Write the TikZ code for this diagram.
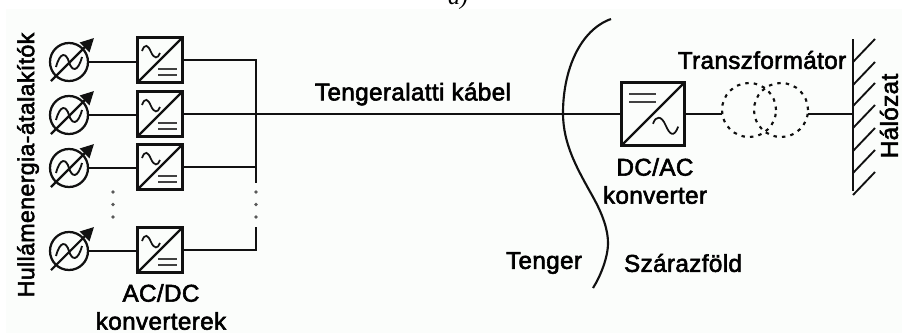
\documentclass[tikz,border=0pt]{standalone}
\usepackage{fontspec}
\setmainfont[FakeBold=2.4,LetterSpace=1.5]{Liberation Sans}
\newfontfamily\betuserif{Liberation Serif}
\usetikzlibrary{arrows.meta, shapes.geometric}
\definecolor{hatter}{HTML}{FBFDFB}
\definecolor{vonal}{HTML}{111111}

\begin{document}
\begin{tikzpicture}[
  x=0.75pt, y=-0.75pt,
  font=\fontsize{18.2}{21}\selectfont,
  forras/.style={draw=vonal, circle, line width=1.7pt, minimum size=28.5pt, inner sep=0pt},
  konverter/.style={draw=vonal, line width=1.8pt, minimum size=33.5pt, inner sep=0pt},
  nagykonverter/.style={konverter, minimum size=47pt},
  tekercs/.style={draw=vonal, circle, line width=1.6pt, minimum size=40.5pt, inner sep=0pt,
                  dash pattern=on 2.6pt off 3.8pt},
  vezetek/.style={draw=vonal, line width=1.6pt},
  forrasjel/.pic={
    \draw[vonal, line width=1.4pt] (-13,5) .. controls (-9,-10) and (-3,-10) .. (0,0)
      .. controls (3,10) and (9,10) .. (13,-5);
    \draw[vonal, line width=1.6pt, -{Triangle[length=10pt,width=10pt]}] (-18,19) -- (25,-24);
  },
  konverterjel/.pic={
    \draw[vonal, line width=1.7pt] (-22,22) -- (22,-22);
    \draw[vonal, line width=1.3pt] (-18,-9) .. controls (-15,-17) and (-12,-15) .. (-9,-8)
      .. controls (-6,-1) and (-2,-1) .. (0,-7);
    \draw[vonal!80, line width=1.5pt] (-2,8.5) -- (17,8.5) (-2,14.5) -- (17,14.5);
  },
  ponthalo/.pic={
    \fill[vonal!70] (0,0) circle (1.4pt) (0,12.5) circle (1.4pt) (0,25) circle (1.4pt);
  }
]
\useasboundingbox (0,0) rectangle (902,333);
\fill[hatter] (6,9) rectangle (902,333);

\node[font=\betuserif\itshape\fontsize{18}{18}\selectfont, anchor=base] (A) at (458,4) {a)};

\node[forras] (G1) at (69,62) {};
\node[forras] (G2) at (69,115) {};
\node[forras] (G3) at (69,168) {};
\node[forras] (G4) at (69,251) {};

\node[konverter] (C1) at (160,60) {};
\node[konverter] (C2) at (160,114) {};
\node[konverter] (C3) at (160,167) {};
\node[konverter] (C4) at (160,250) {};

\coordinate (S1) at (256,60);
\coordinate (S2) at (256,114);
\coordinate (S3) at (256,167);
\coordinate (S4) at (256,250);
\coordinate (SF) at (256,183);
\coordinate (SA) at (256,227);

\node[nagykonverter] (D) at (653,114) {};
\node[tekercs] (T1) at (749,110) {};
\node[tekercs] (T2) at (781,110) {};
\coordinate (TB) at (722,114);
\coordinate (TJ) at (808,114);
\coordinate (W1) at (853,39);
\coordinate (W2) at (853,191);
\coordinate (WK) at (853,114);

\draw[vezetek] (G1) -- (G1 -| C1.west);
\draw[vezetek] (G2) -- (G2 -| C2.west);
\draw[vezetek] (G3) -- (G3 -| C3.west);
\draw[vezetek] (G4) -- (G4 -| C4.west);
\draw[vezetek] (C1) -- (S1) -- (SF);
\draw[vezetek] (C2) -- (S2);
\draw[vezetek] (C3) -- (S3);
\draw[vezetek] (C4) -- (S4) -- (SA);
\draw[vezetek] (S2) -- (D);
\draw[vezetek] (D) -- (TB);
\draw[vezetek] (TJ) -- (WK);

\pic at (G1) {forrasjel};
\pic at (G2) {forrasjel};
\pic at (G3) {forrasjel};
\pic at (G4) {forrasjel};
\pic at (C1) {konverterjel};
\pic at (C2) {konverterjel};
\pic at (C3) {konverterjel};
\pic at (C4) {konverterjel};
\pic[rotate=180, scale=1.4] at (D) {konverterjel};
\pic at (113,192) {ponthalo};
\pic at (256,192) {ponthalo};

% fal
\draw[vezetek] (W1) -- (W2);
\draw[vonal, line width=1.4pt]
  (853,62) -- ++(22,-23) (853,85) -- ++(22,-23) (853,106) -- ++(22,-23)
  (853,128) -- ++(22,-23) (853,151) -- ++(22,-23) (853,173) -- ++(22,-23)
  (853,195) -- ++(22,-23);

% partvonal
\draw[vonal, line width=1.6pt] (611,19) .. controls (580,30) and (563,70) .. (563,113)
  .. controls (563,145) and (578,170) .. (593,197)
  .. controls (603,215) and (608,230) .. (608,243)
  .. controls (608,258) and (600,277) .. (593,288);

\node[rotate=90, font=\fontsize{17.4}{21}\selectfont] (HE) at (28,165) {Hullámenergia-átalakítók};
\node[align=center, inner sep=0pt] (AD) at (161,307) {AC/DC\\konverterek};
\node (TK) at (413,94) {Tengeralatti kábel};
\node[align=center] (DA) at (655,181) {DC/AC\\konverter};
\node (TR) at (762,60) {Transzformátor};
\node[rotate=90, inner sep=0pt] (HL) at (889,116) {Hálózat};
\node (TG) at (544,263) {Tenger};
\node (SZ) at (683,263) {Szárazföld};

\end{tikzpicture}
\end{document}
